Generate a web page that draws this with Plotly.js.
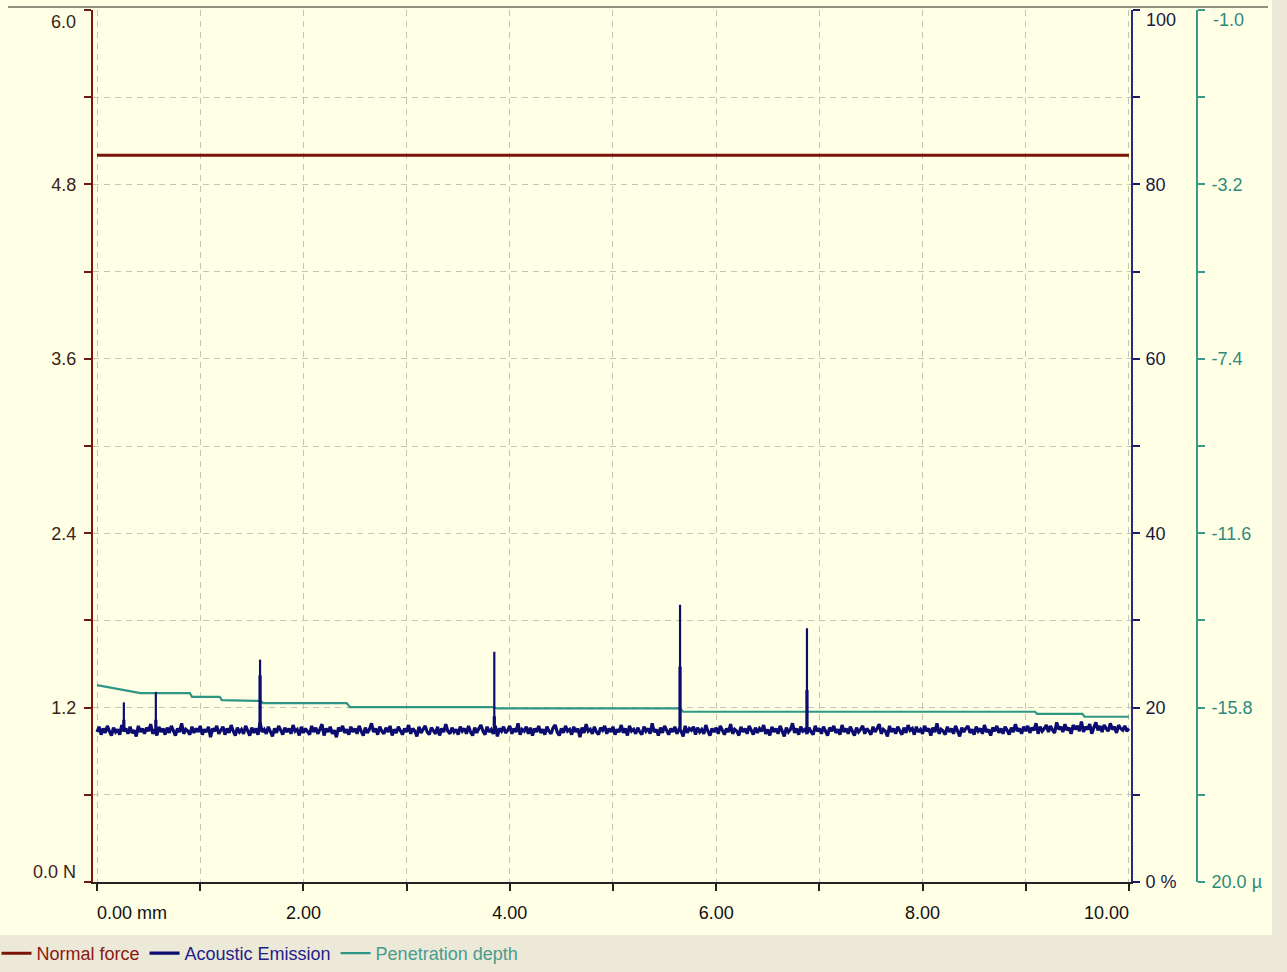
<!DOCTYPE html>
<html>
<head>
<meta charset="utf-8">
<script src="https://cdn.plot.ly/plotly-3.0.1.min.js"></script>
<style>html,body{margin:0;padding:0;background:#ECE9D8;}#chart{width:1287px;height:972px;}</style>
</head>
<body>
<div id="chart"></div>
<script>
// ---- data ----
var xTickVals = [0, 2, 4, 6, 8, 10];
var xTickText = ["0.00 mm", "2.00", "4.00", "6.00", "8.00", "10.00"];
var forceTickVals = [0, 1.2, 2.4, 3.6, 4.8, 6.0];
var forceTickText = ["0.0 N", "1.2", "2.4", "3.6", "4.8", "6.0"];
var aeTickVals = [0, 20, 40, 60, 80, 100];
var aeTickText = ["0 %", "20", "40", "60", "80", "100"];
var depthTickVals = [-20, -15.8, -11.6, -7.4, -3.2, 1.0];
var depthTickText = ["20.0 \u00b5", "-15.8", "-11.6", "-7.4", "-3.2", "-1.0"];

// Normal force (N)
var forceX = [0, 1, 2, 3, 4, 5, 6, 7, 8, 9, 10];
var forceY = [5.00, 5.00, 5.00, 5.00, 5.00, 5.00, 5.00, 5.00, 5.00, 5.00, 5.00];

// Acoustic emission (%), sampled every 0.02 mm from 0 mm
var aeStart = 0;
var aeStep = 0.02;
var aeValues = [
17.2,17.8,16.9,17.6,17.1,17.9,17.3,16.8,17.7,17.2,17.5,16.9,18.0,17.3,17.6,17.0,17.8,17.1,17.4,16.7,17.9,17.2,17.6,17.0,17.7,
17.3,18.1,17.0,17.5,16.8,17.8,17.2,17.6,16.9,17.7,17.1,17.9,17.4,16.8,17.6,17.2,18.2,17.0,17.5,17.3,16.9,17.8,17.1,17.6,17.2,
17.9,16.9,17.5,17.2,17.8,16.6,17.6,17.3,17.9,17.0,17.4,17.8,16.9,17.6,17.1,18.0,17.3,16.8,17.7,17.2,17.5,17.0,17.9,17.3,16.8,
17.7,17.1,17.6,16.9,18.3,17.2,17.5,17.0,17.8,17.3,16.7,17.6,17.1,17.9,17.4,16.9,17.7,17.2,17.6,17.0,18.0,17.3,17.5,16.8,17.8,
17.1,17.6,17.3,16.9,17.9,17.2,17.7,17.0,17.5,18.1,16.8,17.6,17.2,17.8,17.0,17.4,16.6,17.7,17.3,17.9,17.1,17.5,16.9,17.8,17.2,
17.6,17.0,17.9,17.3,16.8,17.7,17.1,17.5,18.2,17.2,17.6,16.9,17.8,17.3,17.0,17.7,17.2,17.9,16.8,17.5,17.1,17.8,17.3,16.9,17.6,
17.2,18.0,17.0,17.6,17.3,16.7,17.8,17.1,17.5,17.9,17.2,16.9,17.7,17.4,17.0,17.8,16.8,17.6,17.2,18.1,17.3,17.0,17.7,17.2,17.5,
16.9,17.8,17.3,17.6,17.0,17.9,17.2,16.8,17.7,17.1,17.6,18.0,17.3,16.9,17.8,17.2,17.5,17.0,17.9,16.7,17.6,17.3,17.8,17.1,17.4,
17.9,17.0,17.6,17.2,18.2,16.9,17.5,17.3,17.8,17.0,17.7,16.8,17.6,17.2,17.9,17.1,17.5,16.9,17.8,17.3,17.0,17.7,18.0,17.2,16.8,
17.6,17.1,17.9,17.3,17.5,16.9,17.8,17.2,17.6,16.6,17.7,17.1,18.1,17.3,17.5,17.0,17.8,17.2,16.9,17.7,17.4,17.9,17.0,17.6,17.2,
17.8,16.9,17.5,17.2,18.0,17.1,17.6,16.8,17.9,17.3,17.5,17.0,17.7,17.2,16.9,17.8,17.3,17.6,17.0,18.2,17.2,17.5,16.8,17.7,17.1,
17.9,17.3,16.9,17.6,17.2,17.8,17.0,17.5,17.3,16.7,17.9,17.1,17.6,17.4,17.8,16.9,17.7,17.2,17.5,17.0,18.0,17.3,16.8,17.6,17.2,
17.7,17.0,17.9,17.3,16.9,17.6,17.2,18.1,17.0,17.5,17.3,16.8,17.8,17.2,17.6,17.0,17.9,17.4,16.9,17.7,17.1,17.6,17.3,18.0,17.0,
17.5,16.8,17.8,17.2,17.6,17.0,17.9,17.3,16.7,17.7,17.2,17.5,18.2,17.1,17.6,16.9,17.8,17.3,17.5,17.0,17.7,17.2,16.9,17.9,17.3,
17.6,17.0,17.8,17.2,16.8,17.7,17.3,17.9,17.1,17.5,16.9,18.0,17.2,17.6,17.0,17.8,17.3,16.8,17.7,17.2,17.5,17.9,17.0,17.6,17.3,
16.9,17.8,17.2,17.6,18.1,17.0,17.5,17.3,16.7,17.9,17.2,17.6,17.0,17.8,17.3,16.9,17.7,17.1,18.0,17.4,17.6,16.9,17.8,17.2,17.5,
17.0,17.9,17.3,17.6,16.8,17.7,17.2,18.2,17.0,17.5,17.3,16.9,17.8,17.2,17.6,17.0,17.9,17.3,16.7,17.7,17.2,17.6,17.9,17.1,17.5,
16.9,17.8,17.3,17.6,17.0,18.0,17.2,17.5,16.8,17.7,17.3,17.9,17.1,17.6,17.0,17.8,17.4,16.9,17.7,17.2,18.1,17.3,17.6,17.0,17.8,
17.3,17.9,17.1,17.7,17.4,18.2,17.0,17.8,17.3,17.6,18.0,17.2,17.9,17.4,17.1,18.3,17.5,17.8,17.2,18.1,17.4,17.7,17.0,18.0,17.5,
17.9,17.3,18.4,17.2,17.8,17.5,18.1,17.0,17.7,18.3,17.4,17.9,17.2,18.0,17.6,17.3,18.2,17.5,17.8,17.1,18.0,17.6,17.4,17.9,17.3,
17.6
];
// AE spikes
var spikeX = [0.26, 0.57, 1.58, 3.85, 5.65, 6.88];
var spikeBase = [17.4, 17.4, 17.4, 17.4, 17.4, 17.4];
var spikePeak = [20.6, 21.8, 25.5, 26.4, 31.8, 29.1];
var spikeShoulder = [18.6, 18.6, 23.7, 19.0, 24.7, 22.0];

// Penetration depth (µm)
var depthX = [0, 0.25, 0.42, 0.90, 0.92, 1.19, 1.21, 1.58, 1.61, 2.42, 2.45, 3.84, 3.88, 5.65, 5.68, 9.09, 9.11, 9.55, 9.57, 10.0];
var depthY = [-15.26, -15.38, -15.45, -15.45, -15.54, -15.54, -15.62, -15.64, -15.69, -15.69, -15.79, -15.79, -15.82, -15.82, -15.90, -15.90, -15.95, -15.95, -16.02, -16.02];

// ---- build ----
var NB = "\u00a0";
function pad(n){ return new Array(n + 1).join(NB); }
var xText = xTickText.slice();
xText[0] = pad(14) + xText[0];
xText[xText.length - 1] = xText[xText.length - 1] + pad(9);

// the end labels of each vertical axis are placed as annotations so they sit inside the frame
function inner(txt){ var t = txt.slice(); t[0] = ""; t[t.length - 1] = ""; return t; }
function innerTop(txt){ var t = txt.slice(); t[t.length - 1] = ""; return t; }

function mids(v){ var m = []; for (var i = 0; i < v.length - 1; i++) m.push((v[i] + v[i+1]) / 2); return m; }

function seg(xs, y0s, y1s){
  var X = [], Y = [];
  for (var i = 0; i < xs.length; i++){ X.push(xs[i], xs[i], null); Y.push(y0s[i], y1s[i], null); }
  return {x: X, y: Y};
}
var sp = seg(spikeX, spikeBase, spikePeak);
var sh = seg(spikeX, spikeBase, spikeShoulder);

var RED = "#7A1408", NAVY = "#0C0C70", TEAL = "#2F9686";
var FONT = "Liberation Sans, Arial, sans-serif";
var XDOM = 0.9402;

var traces = [
  {x: forceX, y: forceY, yaxis: "y", type: "scatter", mode: "lines",
   line: {color: RED, width: 3}, name: "<span style='color:#8B1A10'>Normal force</span>", legendrank: 1},
  {x: depthX, y: depthY, yaxis: "y2", type: "scatter", mode: "lines",
   line: {color: TEAL, width: 2.2}, name: "<span style='color:#4A9C8E'>Penetration depth</span>", legendrank: 3},
  {y: aeValues, x0: aeStart, dx: aeStep, yaxis: "y3", type: "scatter", mode: "lines",
   line: {color: NAVY, width: 3.2}, name: "<span style='color:#22228A'>Acoustic Emission</span>", legendrank: 2},
  {x: sp.x, y: sp.y, yaxis: "y3", type: "scatter", mode: "lines", line: {color: NAVY, width: 2.2},
   showlegend: false, hoverinfo: "skip"},
  {x: sh.x, y: sh.y, yaxis: "y3", type: "scatter", mode: "lines", line: {color: NAVY, width: 3.2},
   showlegend: false, hoverinfo: "skip"}
];

var gridCol = "#C4C4B4";

function edgeLabel(text, xPaper, xshift, xanchor, yref, yval, yshift, color){
  return {text: text, xref: "paper", x: xPaper, xshift: xshift, xanchor: xanchor,
          yref: yref, y: yval, yshift: yshift, yanchor: "middle", showarrow: false,
          font: {family: FONT, size: 18, color: color}, borderpad: 0};
}

var layout = {
  width: 1287, height: 972,
  margin: {l: 93, r: 90, t: 10, b: 90, autoexpand: false},
  paper_bgcolor: "#ECE9D8",
  plot_bgcolor: "#FFFFE6",
  font: {family: FONT, size: 18, color: "#111"},
  showlegend: true,
  legend: {orientation: "h", x: -0.0874, y: -0.082, xanchor: "left", yanchor: "middle",
           bgcolor: "rgba(0,0,0,0)", font: {size: 18, family: FONT}, itemwidth: 30, traceorder: "normal"},
  xaxis: {
    domain: [0, XDOM], range: [-0.039, 10.02], anchor: "y",
    tickmode: "array", tickvals: xTickVals, ticktext: xText,
    ticks: "outside", ticklen: 7, tickwidth: 2, tickcolor: "#222",
    showline: true, linecolor: "#222", linewidth: 2, zeroline: false,
    showgrid: true, gridcolor: gridCol, griddash: "6px,5px", gridwidth: 1,
    minor: {tickvals: mids(xTickVals), ticks: "outside", ticklen: 7, tickwidth: 2, tickcolor: "#222",
            showgrid: true, gridcolor: gridCol, griddash: "6px,5px", gridwidth: 1},
    tickfont: {size: 18, color: "#111"}, ticklabelstandoff: 6
  },
  yaxis: {
    range: [0, 6], tickmode: "array", tickvals: forceTickVals, ticktext: inner(forceTickText),
    ticks: "outside", ticklen: 7, tickwidth: 2, tickcolor: "#6A1A10",
    showline: true, linecolor: "#7A1408", linewidth: 2, zeroline: false,
    showgrid: true, gridcolor: gridCol, griddash: "6px,5px", gridwidth: 1,
    minor: {tickvals: mids(forceTickVals), ticks: "outside", ticklen: 7, tickwidth: 2, tickcolor: "#6A1A10",
            showgrid: true, gridcolor: gridCol, griddash: "6px,5px", gridwidth: 1},
    tickfont: {size: 18, color: "#3A2418"}, ticklabelstandoff: 4
  },
  yaxis2: {
    overlaying: "y", side: "right", anchor: "free", position: 1.0,
    range: [-20, 1], tickmode: "array", tickvals: depthTickVals, ticktext: innerTop(depthTickText),
    ticks: "outside", ticklen: 7, tickwidth: 2, tickcolor: "#3A9A8A",
    showline: true, linecolor: "#3A9A8A", linewidth: 2, zeroline: false, showgrid: false,
    minor: {tickvals: mids(depthTickVals), ticks: "outside", ticklen: 7, tickwidth: 2, tickcolor: "#3A9A8A", showgrid: false},
    tickfont: {size: 18, color: "#2F8A7C"}, ticklabelstandoff: 3, ticklabeloverflow: "allow"
  },
  yaxis3: {
    overlaying: "y", side: "right", anchor: "x",
    range: [0, 100], tickmode: "array", tickvals: aeTickVals, ticktext: innerTop(aeTickText),
    ticks: "outside", ticklen: 7, tickwidth: 2, tickcolor: "#1A1A6A",
    showline: true, linecolor: "#2A2A80", linewidth: 2, zeroline: false, showgrid: false,
    minor: {tickvals: mids(aeTickVals), ticks: "outside", ticklen: 7, tickwidth: 2, tickcolor: "#1A1A6A", showgrid: false},
    tickfont: {size: 18, color: "#1A1A40"}, ticklabelstandoff: 2
  },
  annotations: [
    edgeLabel(forceTickText[5], 0, -16, "right", "y", forceTickVals[5], -12, "#3A2418"),
    edgeLabel(forceTickText[0], 0, -16, "right", "y", forceTickVals[0], 10, "#3A2418"),
    edgeLabel(aeTickText[5], XDOM, 14, "left", "y3", aeTickVals[5], -10, "#1A1A40"),
    edgeLabel(depthTickText[5], 1.0, 15, "left", "y2", depthTickVals[5], -10, "#2F8A7C")
  ],
  shapes: [
    {type: "rect", xref: "paper", yref: "paper", x0: -0.0843, x1: 1.0679, y0: -0.0608, y1: 1.0115,
     fillcolor: "#FFFFE6", line: {width: 0}, layer: "below"},
    {type: "line", xref: "paper", yref: "paper", x0: -0.077, x1: 1.0643, y0: 1.0034, y1: 1.0034,
     line: {color: "#6E6A58", width: 1.5}, layer: "below"}
  ]
};

Plotly.newPlot("chart", traces, layout, {displayModeBar: false, staticPlot: true});
</script>
</body>
</html>
